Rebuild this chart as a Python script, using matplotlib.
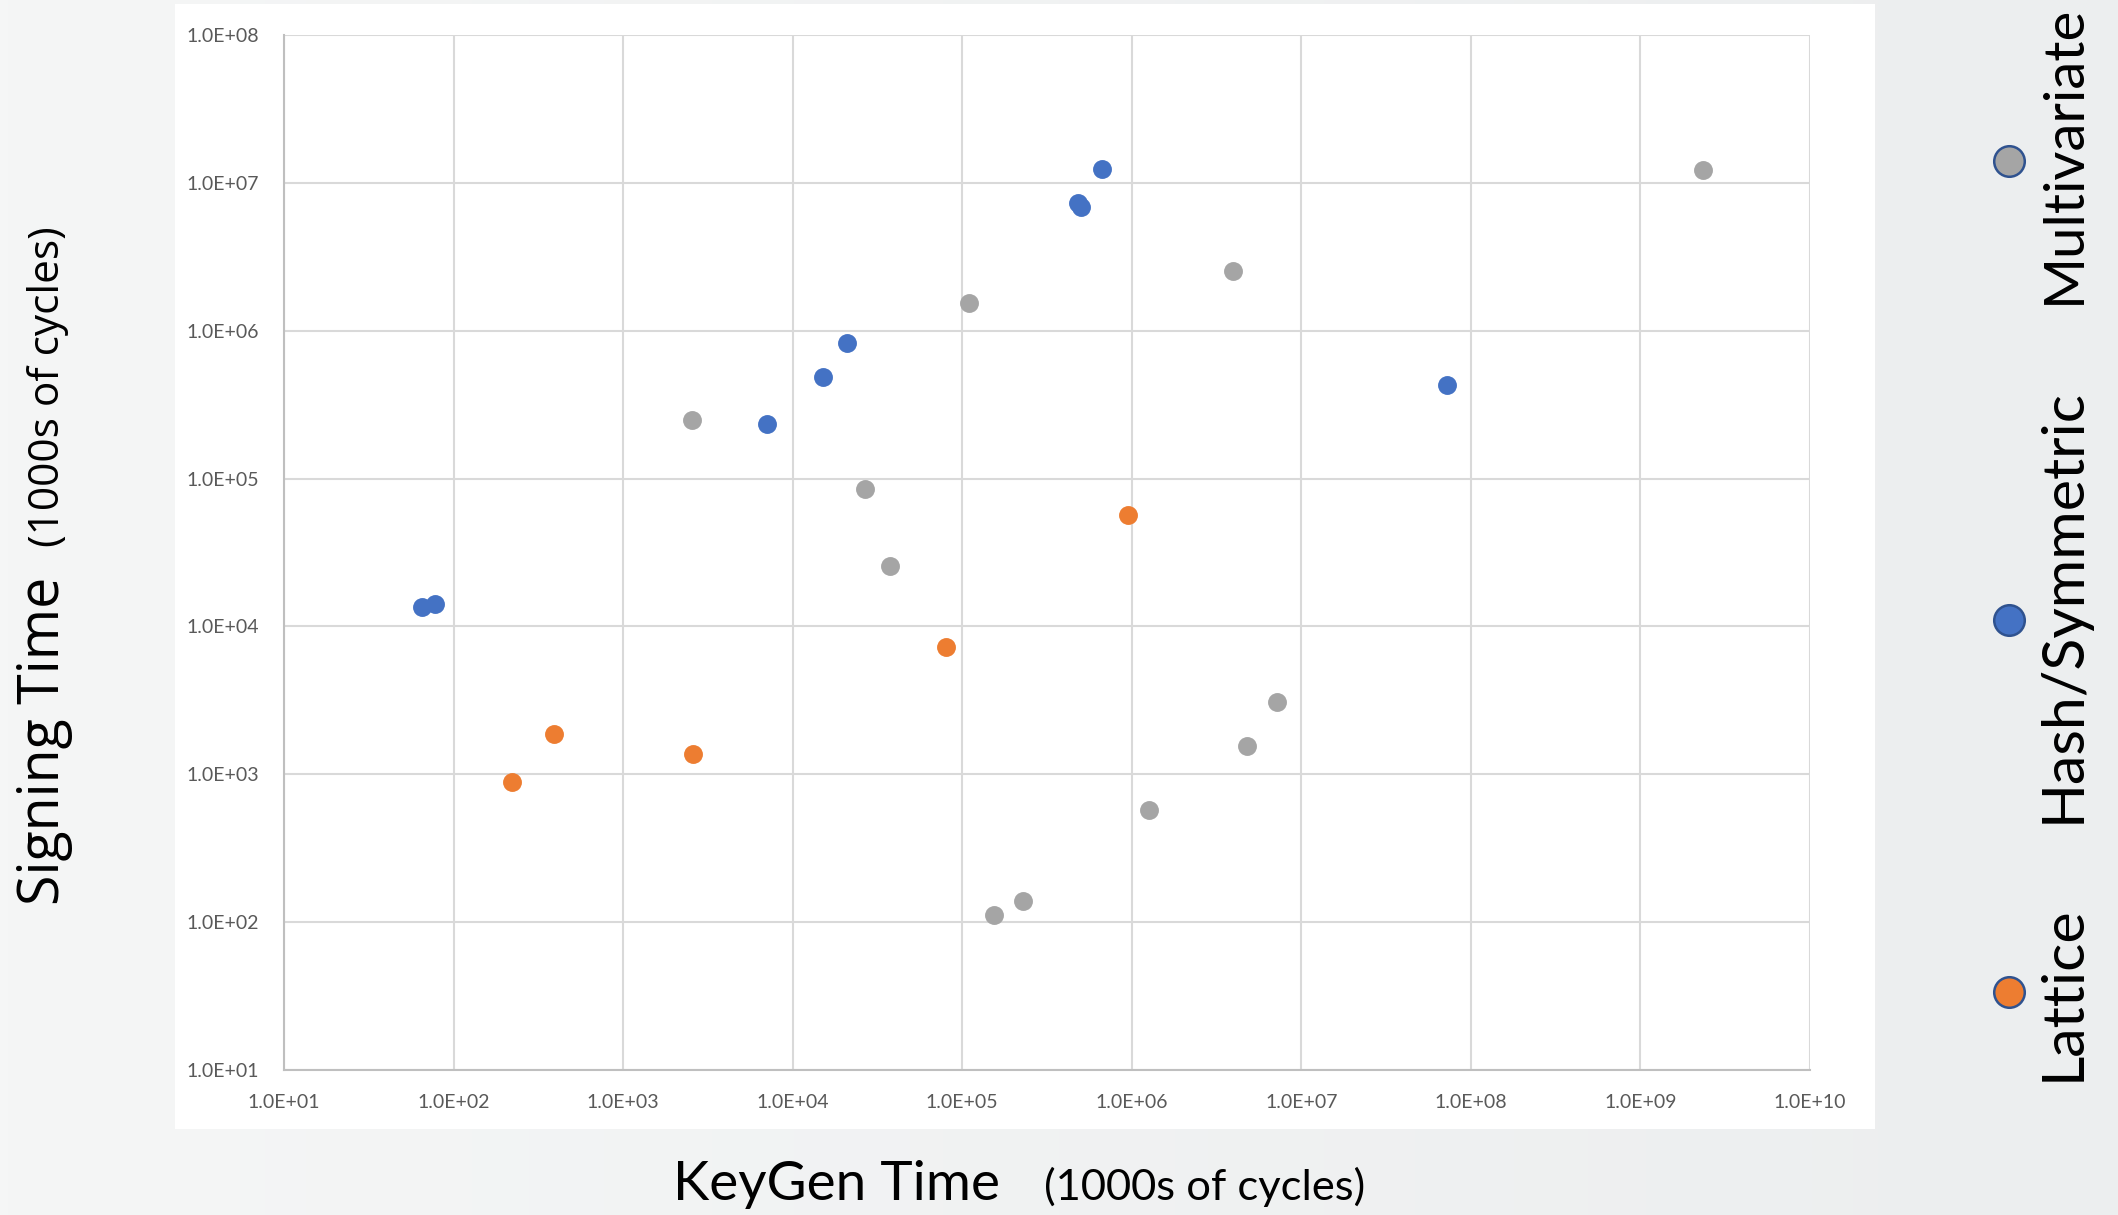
import matplotlib
matplotlib.use("Agg")
import matplotlib.pyplot as plt
import matplotlib.patches as mpatches
from matplotlib.lines import Line2D
from matplotlib import font_manager
import numpy as np

# KeyGen time vs signing time, both in 1000s of cycles
lattice_keygen = [222, 392, 2590, 79800, 951000]
lattice_sign = [883, 1884, 1373, 7245, 57000]

hash_keygen = [64.9, 78, 7100, 15060, 20900, 482000, 500000, 670000, 7.2e7]
hash_sign = [13600, 14200, 233000, 488000, 824000, 7.36e6, 6.9e6, 1.245e7, 430000]

multi_keygen = [2540, 26600, 37700, 109000, 3.97e6, 2.34e9, 7.14e6, 4.78e6,
                1.27e6, 227000, 154000]
multi_sign = [248000, 84900, 25600, 1.55e6, 2.52e6, 1.22e7, 3060, 1560,
              569, 139, 112]

x_ticks = [10.0 ** k for k in range(1, 11)]
y_ticks = [10.0 ** k for k in range(1, 9)]

series_names = ["Lattice", "Hash/Symmetric", "Multivariate"]
series_colors = ["#ED7D31", "#4472C4", "#A5A5A5"]

installed = {f.name for f in font_manager.fontManager.ttflist}
tick_font = "Lato" if "Lato" in installed else "DejaVu Sans"
label_font = "Open Sans" if "Open Sans" in installed else "DejaVu Sans"

W, H = 2118, 1215
fig = plt.figure(figsize=(W / 100, H / 100), dpi=100)

# soft gray slide background
bg = fig.add_axes([0, 0, 1, 1], zorder=-10)
grad = np.linspace(0, 1, 256).reshape(1, -1)
bg.imshow(grad, aspect="auto", extent=[0, 1, 0, 1],
          cmap=matplotlib.colors.LinearSegmentedColormap.from_list(
              "bg", ["#f5f6f6", "#eceeef"]))
bg.axis("off")

# white chart panel
fig.patches.append(mpatches.Rectangle((175 / W, 1 - 1129 / H), 1700 / W, 1125 / H,
                                      transform=fig.transFigure,
                                      facecolor="white", edgecolor="none", zorder=-5))

ax = fig.add_axes([284 / W, 1 - 1070 / H, (1810 - 284) / W, (1070 - 35) / H])
ax.set_facecolor("white")
ax.set_xscale("log")
ax.set_yscale("log")
ax.set_xlim(x_ticks[0], x_ticks[-1])
ax.set_ylim(y_ticks[0], y_ticks[-1])
ax.set_xticks(x_ticks)
ax.set_yticks(y_ticks)
ax.xaxis.set_minor_locator(matplotlib.ticker.NullLocator())
ax.yaxis.set_minor_locator(matplotlib.ticker.NullLocator())
ax.set_xticklabels([f"1.0E+{k:02d}" for k in range(1, 11)])
ax.set_yticklabels([f"1.0E+{k:02d}" for k in range(1, 9)])
ax.tick_params(length=0, labelsize=14, labelcolor="#595959")
ax.tick_params(axis="x", pad=17)
ax.tick_params(axis="y", pad=18)
for lab in ax.get_xticklabels() + ax.get_yticklabels():
    lab.set_family(tick_font)

ax.grid(True, color="#d9d9d9", linewidth=1.5)
ax.set_axisbelow(True)
for side in ["top", "right"]:
    ax.spines[side].set_visible(False)
for side in ["left", "bottom"]:
    ax.spines[side].set_color("#bfbfbf")
    ax.spines[side].set_linewidth(1.5)

for xs, ys, c in [(lattice_keygen, lattice_sign, series_colors[0]),
                  (hash_keygen, hash_sign, series_colors[1]),
                  (multi_keygen, multi_sign, series_colors[2])]:
    ax.scatter(xs, ys, s=185, color=c, linewidths=0, zorder=3, clip_on=False)

# axis titles
fig.text(59 / W, 1 - 905 / H, "Signing Time", rotation=90, rotation_mode="anchor",
         ha="left", va="baseline", fontsize=40, family=label_font, color="black")
fig.text(59 / W, 1 - 547 / H, "(1000s of cycles)", rotation=90, rotation_mode="anchor",
         ha="left", va="baseline", fontsize=30.5, family=label_font, color="black")
fig.text(673 / W, 1 - 1200 / H, "KeyGen Time", ha="left", va="baseline",
         fontsize=39.5, family=tick_font, color="black")
fig.text(1044 / W, 1 - 1200 / H, "(1000s of cycles)", ha="left", va="baseline",
         fontsize=31.3, family=tick_font, color="black")

# vertical legend on the right
legend_y = [1081, 823, 304]
legend_size = [42.5, 42.5, 40.5]
marker_y = [992, 620, 161]
for name, c, ty, fs, my in zip(series_names, series_colors, legend_y, legend_size, marker_y):
    fig.add_artist(Line2D([2009 / W], [1 - my / H], marker="o", markersize=22,
                          markerfacecolor=c, markeredgecolor="#2F528F",
                          markeredgewidth=1.8, linestyle="none",
                          transform=fig.transFigure))
    fig.text(2080 / W, 1 - ty / H, name, rotation=90, rotation_mode="anchor",
             ha="left", va="baseline", fontsize=fs, family=tick_font, color="black")

fig.savefig("out.png", dpi=100)
